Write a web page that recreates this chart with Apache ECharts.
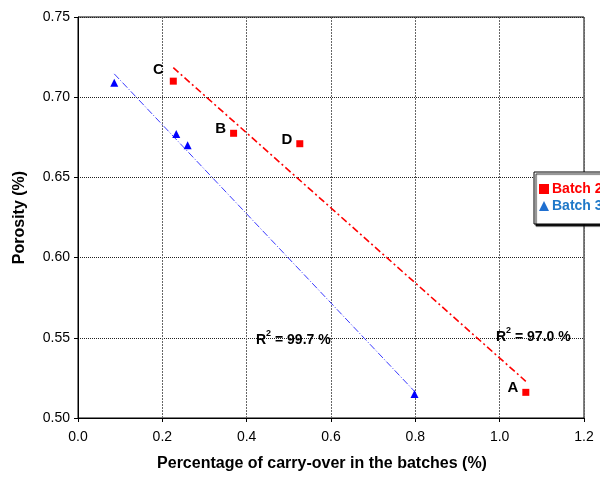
<!DOCTYPE html>
<html>
<head>
<meta charset="utf-8">
<script src="https://cdn.jsdelivr.net/npm/echarts@6/dist/echarts.min.js"></script>
<style>
  html, body { margin: 0; padding: 0; background: #fff; }
  #main { width: 600px; height: 482px; }
</style>
</head>
<body>
<div id="main"></div>
<script>
// data
var batch2X = [0.226, 0.369, 0.526, 1.062];
var batch2Y = [0.710, 0.6775, 0.671, 0.516];
var batch2Names = ['C', 'B', 'D', 'A'];
var batch3X = [0.086, 0.233, 0.260, 0.798];
var batch3Y = [0.709, 0.677, 0.670, 0.515];
var r2Labels = ['99.7 %', '97.0 %']; // batch 3, batch 2
var xTicks = [0, 0.2, 0.4, 0.6, 0.8, 1.0, 1.2];
var yTicks = [0.50, 0.55, 0.60, 0.65, 0.70, 0.75];

// least squares line over the range of the points
function fitLine(xs, ys) {
  var n = xs.length, mx = 0, my = 0;
  for (var i = 0; i < n; i++) { mx += xs[i]; my += ys[i]; }
  mx /= n; my /= n;
  var sxy = 0, sxx = 0;
  for (var i = 0; i < n; i++) {
    sxy += (xs[i] - mx) * (ys[i] - my);
    sxx += (xs[i] - mx) * (xs[i] - mx);
  }
  var b = sxy / sxx, a = my - b * mx;
  var x0 = Math.min.apply(Math, xs), x1 = Math.max.apply(Math, xs);
  return [[x0, a + b * x0], [x1, a + b * x1]];
}

function pairs(xs, ys) {
  return xs.map(function (x, i) { return [x, ys[i]]; });
}

var chart = echarts.init(document.getElementById('main'));
var font = 'Arial, "Liberation Sans", sans-serif';

var option = {
  animation: false,
  backgroundColor: '#fff',
  textStyle: { fontFamily: font },
  grid: { left: 78, right: 16, top: 17, bottom: 64, show: true, borderColor: '#000', borderWidth: 1 },
  legend: {
    orient: 'vertical',
    left: 534,
    top: 172,
    padding: [10, 8, 11, 5],
    itemWidth: 10,
    itemHeight: 10,
    itemGap: 3,
    backgroundColor: '#fff',
    borderColor: '#000',
    borderWidth: 1,
    shadowColor: 'rgba(0,0,0,0.9)',
    shadowBlur: 1,
    shadowOffsetX: 2,
    shadowOffsetY: 2,
    textStyle: { fontFamily: font, fontSize: 14, fontWeight: 'bold', padding: [0, 0, 0, -2] },
    data: [
      { name: 'Batch 2', icon: 'rect', itemStyle: { color: '#ff0000', opacity: 1 }, textStyle: { color: '#ff0000' } },
      { name: 'Batch 3', icon: 'triangle', itemStyle: { color: '#1f6fd0', opacity: 1 }, textStyle: { color: '#1f78c8' } }
    ]
  },
  xAxis: {
    type: 'value',
    min: 0, max: 1.2, interval: 0.2,
    name: 'Percentage of carry-over in the batches (%)',
    nameLocation: 'middle',
    nameGap: 38,
    nameTextStyle: { fontSize: 16, fontWeight: 'bold', color: '#000', fontFamily: font, padding: [0, 18, 0, 0] },
    axisLine: { lineStyle: { color: '#000', width: 1 } },
    axisTick: { show: true, length: 4, lineStyle: { color: '#000' } },
    axisLabel: { fontSize: 14, color: '#000', margin: 12, formatter: function (v) { return v.toFixed(1); } },
    splitLine: { show: true, lineStyle: { color: '#666', width: 1, type: [2, 1] } }
  },
  yAxis: {
    type: 'value',
    min: 0.5, max: 0.75, interval: 0.05,
    name: 'Porosity (%)',
    nameLocation: 'middle',
    nameGap: 50,
    nameTextStyle: { fontSize: 16, fontWeight: 'bold', color: '#000', fontFamily: font },
    axisLine: { lineStyle: { color: '#000', width: 1 } },
    axisTick: { show: true, length: 4, lineStyle: { color: '#000' } },
    axisLabel: { fontSize: 14, color: '#000', margin: 8, formatter: function (v) { return v.toFixed(2); } },
    splitLine: { show: true, lineStyle: { color: '#222', width: 1, type: [1, 1] } }
  },
  series: [
    {
      name: 'Batch 2',
      type: 'scatter',
      symbol: 'rect',
      symbolSize: 7,
      itemStyle: { color: '#ff0000', opacity: 1 },
      data: pairs(batch2X, batch2Y).map(function (p, i) {
        var item = { value: p, name: batch2Names[i] };
        if (i === 0) item.label = { offset: [-2, -11] };
        return item;
      }),
      label: {
        show: true,
        position: 'left',
        distance: 4,
        offset: [0, -4],
        formatter: '{b}',
        fontSize: 15,
        fontWeight: 'bold',
        color: '#000',
        fontFamily: font
      },
      z: 5
    },
    {
      name: 'Batch 3',
      type: 'scatter',
      symbol: 'triangle',
      symbolSize: 8,
      itemStyle: { color: '#0000ff', opacity: 1 },
      data: pairs(batch3X, batch3Y),
      z: 5
    },
    {
      name: 'Batch 2 fit',
      type: 'line',
      data: fitLine(batch2X, batch2Y),
      symbol: 'none',
      lineStyle: { color: '#ff0000', width: 1.6, type: [7, 3, 2, 3] },
      z: 3
    },
    {
      name: 'Batch 3 fit',
      type: 'line',
      data: fitLine(batch3X, batch3Y),
      symbol: 'none',
      lineStyle: { color: '#3a3aff', width: 1, type: [7, 2, 1, 2] },
      z: 3
    }
  ],
  graphic: [
    {
      type: 'text', left: 256, top: 329, z: 10,
      style: {
        text: '{r|R}{s|2}{r| = ' + r2Labels[0] + '}',
        rich: {
          r: { fontSize: 14, fontWeight: 'bold', fill: '#000', fontFamily: font, verticalAlign: 'bottom', lineHeight: 18 },
          s: { fontSize: 9, fontWeight: 'bold', fill: '#000', fontFamily: font, verticalAlign: 'top', lineHeight: 18, padding: [0, 0, 8, 0] }
        }
      }
    },
    {
      type: 'text', left: 496, top: 326, z: 10,
      style: {
        text: '{r|R}{s|2}{r| = ' + r2Labels[1] + '}',
        rich: {
          r: { fontSize: 14, fontWeight: 'bold', fill: '#000', fontFamily: font, verticalAlign: 'bottom', lineHeight: 18 },
          s: { fontSize: 9, fontWeight: 'bold', fill: '#000', fontFamily: font, verticalAlign: 'top', lineHeight: 18, padding: [0, 0, 8, 0] }
        }
      }
    }
  ]
};

chart.setOption(option);
</script>
</body>
</html>
